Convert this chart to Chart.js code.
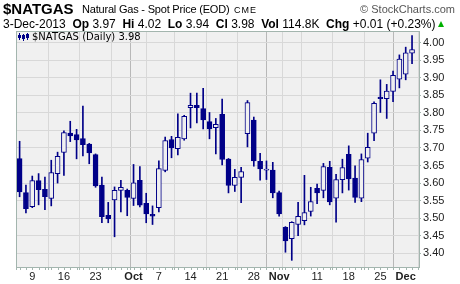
<!DOCTYPE html>
<html>
<head>
<meta charset="utf-8">
<script src="https://cdn.jsdelivr.net/npm/chart.js@4.4.0/dist/chart.umd.min.js"></script>
<style>
  body { margin: 0; background: #fff; }
  #wrap { position: relative; width: 460px; height: 284px; font-family: "Liberation Sans", Arial, sans-serif; color: #000; }
  canvas { position: absolute; left: 0; top: 0; }
  .t { position: absolute; white-space: pre; font-size: 12px; line-height: 1; }
  .b { font-weight: bold; }
  .up { display: inline-block; width: 0; height: 0; margin-left: 3px; vertical-align: 1px;
        border-left: 3.5px solid transparent; border-right: 3.5px solid transparent; border-bottom: 6px solid #00b000; }
</style>
</head>
<body>
<div id="wrap">
  <canvas id="natgasChart" width="460" height="284"></canvas>
  <div class="t b" style="left:3px;top:1px;font-size:15px">$NATGAS</div>
  <div class="t" style="left:82px;top:4px;font-size:11px;letter-spacing:-0.2px">Natural Gas - Spot Price (EOD)</div>
  <div class="t" style="left:234px;top:6px;font-size:9px;letter-spacing:1px">CME</div>
  <div class="t" style="right:5px;top:4px;font-size:11px;color:#555">© StockCharts.com</div>

  <div class="t" style="left:3px;top:18px">3-Dec-2013  <b>Op</b> 3.97  <b>Hi</b> 4.02  <b>Lo</b> 3.94  <b>Cl</b> 3.98  <b>Vol</b> 114.8K  <b>Chg</b> +0.01 (+0.23%)<span class="up"></span></div>

  <div class="t" style="left:32px;top:32px;font-family:'DejaVu Sans';font-size:10px">$NATGAS (Daily) 3.98</div>
</div>
<script>
// daily prices, 5-Sep-2013 .. 3-Dec-2013
const dates = ['Sep 5', 'Sep 6', 'Sep 9', 'Sep 10', 'Sep 11', 'Sep 12', 'Sep 13',
  'Sep 16', 'Sep 17', 'Sep 18', 'Sep 19', 'Sep 20', 'Sep 23', 'Sep 24', 'Sep 25', 'Sep 26', 'Sep 27',
  'Sep 30', 'Oct 1', 'Oct 2', 'Oct 3', 'Oct 4', 'Oct 7', 'Oct 8', 'Oct 9', 'Oct 10', 'Oct 11',
  'Oct 14', 'Oct 15', 'Oct 16', 'Oct 17', 'Oct 18', 'Oct 21', 'Oct 22', 'Oct 23', 'Oct 24', 'Oct 25',
  'Oct 28', 'Oct 29', 'Oct 30', 'Oct 31', 'Nov 1', 'Nov 4', 'Nov 5', 'Nov 6', 'Nov 7', 'Nov 8',
  'Nov 11', 'Nov 12', 'Nov 13', 'Nov 14', 'Nov 15', 'Nov 18', 'Nov 19', 'Nov 20', 'Nov 21', 'Nov 22',
  'Nov 25', 'Nov 26', 'Nov 27', 'Nov 29', 'Dec 2', 'Dec 3'];
const openP = [3.670, 3.573, 3.533, 3.607, 3.582, 3.556, 3.627,
  3.687, 3.742, 3.738, 3.727, 3.711, 3.681, 3.594, 3.508, 3.552, 3.579,
  3.579, 3.556, 3.608, 3.542, 3.511, 3.530, 3.636, 3.724, 3.698, 3.726,
  3.815, 3.821, 3.812, 3.775, 3.758, 3.796, 3.668, 3.593, 3.616, 3.741,
  3.779, 3.662, 3.637, 3.637, 3.573, 3.474, 3.442, 3.482, 3.493, 3.519,
  3.585, 3.579, 3.645, 3.557, 3.610, 3.682, 3.614, 3.557, 3.671, 3.742,
  3.845, 3.840, 3.861, 3.896, 3.910, 3.970];
const highP = [3.719, 3.594, 3.620, 3.627, 3.617, 3.665, 3.688,
  3.749, 3.776, 3.753, 3.819, 3.713, 3.683, 3.617, 3.545, 3.589, 3.608,
  3.583, 3.653, 3.647, 3.571, 3.535, 3.663, 3.731, 3.733, 3.797, 3.793,
  3.856, 3.856, 3.870, 3.801, 3.784, 3.839, 3.670, 3.639, 3.645, 3.835,
  3.788, 3.685, 3.663, 3.659, 3.577, 3.476, 3.490, 3.545, 3.622, 3.588,
  3.597, 3.656, 3.662, 3.625, 3.668, 3.706, 3.649, 3.683, 3.742, 3.831,
  3.894, 3.881, 3.919, 3.965, 3.987, 4.020];
const lowP = [3.561, 3.515, 3.530, 3.538, 3.524, 3.535, 3.600,
  3.622, 3.718, 3.669, 3.677, 3.655, 3.588, 3.487, 3.487, 3.447, 3.518,
  3.507, 3.536, 3.532, 3.487, 3.482, 3.518, 3.632, 3.672, 3.680, 3.722,
  3.757, 3.771, 3.754, 3.726, 3.683, 3.652, 3.572, 3.576, 3.544, 3.703,
  3.648, 3.608, 3.610, 3.558, 3.506, 3.403, 3.380, 3.450, 3.481, 3.506,
  3.541, 3.558, 3.538, 3.489, 3.572, 3.580, 3.545, 3.547, 3.660, 3.721,
  3.801, 3.784, 3.832, 3.871, 3.894, 3.940];
const closeP = [3.575, 3.527, 3.607, 3.581, 3.561, 3.630, 3.676,
  3.744, 3.734, 3.723, 3.709, 3.686, 3.592, 3.504, 3.498, 3.579, 3.588,
  3.559, 3.601, 3.537, 3.512, 3.506, 3.641, 3.721, 3.700, 3.730, 3.790,
  3.821, 3.815, 3.780, 3.754, 3.767, 3.667, 3.593, 3.616, 3.633, 3.829,
  3.663, 3.640, 3.640, 3.572, 3.512, 3.435, 3.488, 3.505, 3.516, 3.547,
  3.572, 3.647, 3.546, 3.610, 3.644, 3.612, 3.559, 3.667, 3.702, 3.827,
  3.840, 3.862, 3.907, 3.953, 3.971, 3.980];

// axis ticks (x = trading day index)
const xTickIdx = [2, 7, 12, 17, 18, 22, 27, 32, 37, 41, 42, 47, 52, 57, 61];
const xTickText = ['9', '16', '23', '', 'Oct', '7', '14', '21', '28', 'Nov', '', '11', '18', '25', 'Dec'];
const monthIdx = [18, 41, 61];
const yTicks = [3.40, 3.45, 3.50, 3.55, 3.60, 3.65, 3.70, 3.75, 3.80, 3.85, 3.90, 3.95, 4.00];

const navy = '#000088';
const plotBg = '#f0f0f0';
const frame = '#a3b5ae';

const wickData = dates.map((d, i) => ({ x: i, y: [lowP[i], highP[i]] }));
const bodyData = dates.map((d, i) => ({ x: i, y: [openP[i], closeP[i]] }));
const bodyFill = dates.map((d, i) => closeP[i] >= openP[i] ? plotBg : navy);

const plotDecor = {
    id: 'plotDecor',
    beforeDraw(chart) {
        const { ctx, chartArea: a } = chart;
        ctx.save();
        ctx.fillStyle = plotBg;
        ctx.fillRect(a.left, a.top, a.right - a.left, a.bottom - a.top);
        ctx.restore();
    },
    afterDraw(chart) {
        const { ctx, chartArea: a } = chart;
        const xs = chart.scales.x;
        ctx.save();
        ctx.strokeStyle = frame;
        ctx.lineWidth = 1;
        ctx.strokeRect(a.left + 0.5, a.top + 0.5, a.right - a.left, a.bottom - a.top);
        // small day ticks under the axis
        ctx.beginPath();
        for (let i = 0; i < dates.length; i++) {
            const px = Math.round(xs.getPixelForValue(i)) + 0.5;
            ctx.moveTo(px, a.bottom + 1);
            ctx.lineTo(px, a.bottom + 3);
        }
        ctx.stroke();
        // legend icon
        ctx.fillStyle = navy;
        ctx.fillRect(19, 33, 1, 7);
        ctx.fillRect(18, 35, 3, 3);
        ctx.fillRect(23, 34, 1, 7);
        ctx.strokeStyle = navy;
        ctx.strokeRect(22.5, 35.5, 2, 3);
        ctx.fillRect(27, 33, 1, 7);
        ctx.fillRect(26, 34, 3, 4);
        ctx.restore();
    }
};

const natgasChart = new Chart(document.getElementById('natgasChart'), {
    type: 'bar',
    data: {
        datasets: [{
            label: 'body',
            data: bodyData,
            backgroundColor: bodyFill,
            borderColor: navy,
            borderWidth: 1,
            borderSkipped: false,
            barThickness: 5,
            grouped: false,
            order: 0
        }, {
            label: 'wick',
            data: wickData,
            backgroundColor: navy,
            borderWidth: 0,
            barThickness: 1,
            grouped: false,
            order: 1
        }]
    },
    options: {
        responsive: false,
        devicePixelRatio: 1,
        animation: false,
        layout: { padding: { left: 16, top: 31, right: 0, bottom: 0 } },
        plugins: {
            legend: { display: false },
            tooltip: { enabled: false }
        },
        scales: {
            x: {
                type: 'linear',
                min: -0.57,
                max: 63.1,
                offset: false,
                afterBuildTicks: (scale) => { scale.ticks = xTickIdx.map(v => ({ value: v })); },
                afterFit: (scale) => { scale.height = 17; },
                border: { display: false },
                grid: {
                    color: (c) => (c.tick && monthIdx.includes(c.tick.value)) ? '#b8b8b8' : '#d8d8d8',
                    tickColor: frame,
                    tickLength: 3,
                    drawTicks: true
                },
                ticks: {
                    autoSkip: false,
                    maxRotation: 0,
                    padding: 0,
                    color: '#222',
                    font: (c) => ({ family: 'Liberation Sans', size: 11, weight: (c.tick && monthIdx.includes(c.tick.value)) ? 'bold' : 'normal' }),
                    callback: (v, i) => xTickText[i]
                }
            },
            y: {
                position: 'right',
                min: 3.361,
                max: 4.033,
                afterBuildTicks: (scale) => { scale.ticks = yTicks.map(v => ({ value: v })); },
                afterFit: (scale) => { scale.width = 41; },
                border: { display: false },
                grid: {
                    color: '#d8d8d8',
                    tickColor: frame,
                    tickLength: 2
                },
                ticks: {
                    padding: 2,
                    color: '#222',
                    font: { family: 'Liberation Sans', size: 11 },
                    callback: (v) => v.toFixed(2)
                }
            }
        }
    },
    plugins: [plotDecor]
});
</script>
</body>
</html>
